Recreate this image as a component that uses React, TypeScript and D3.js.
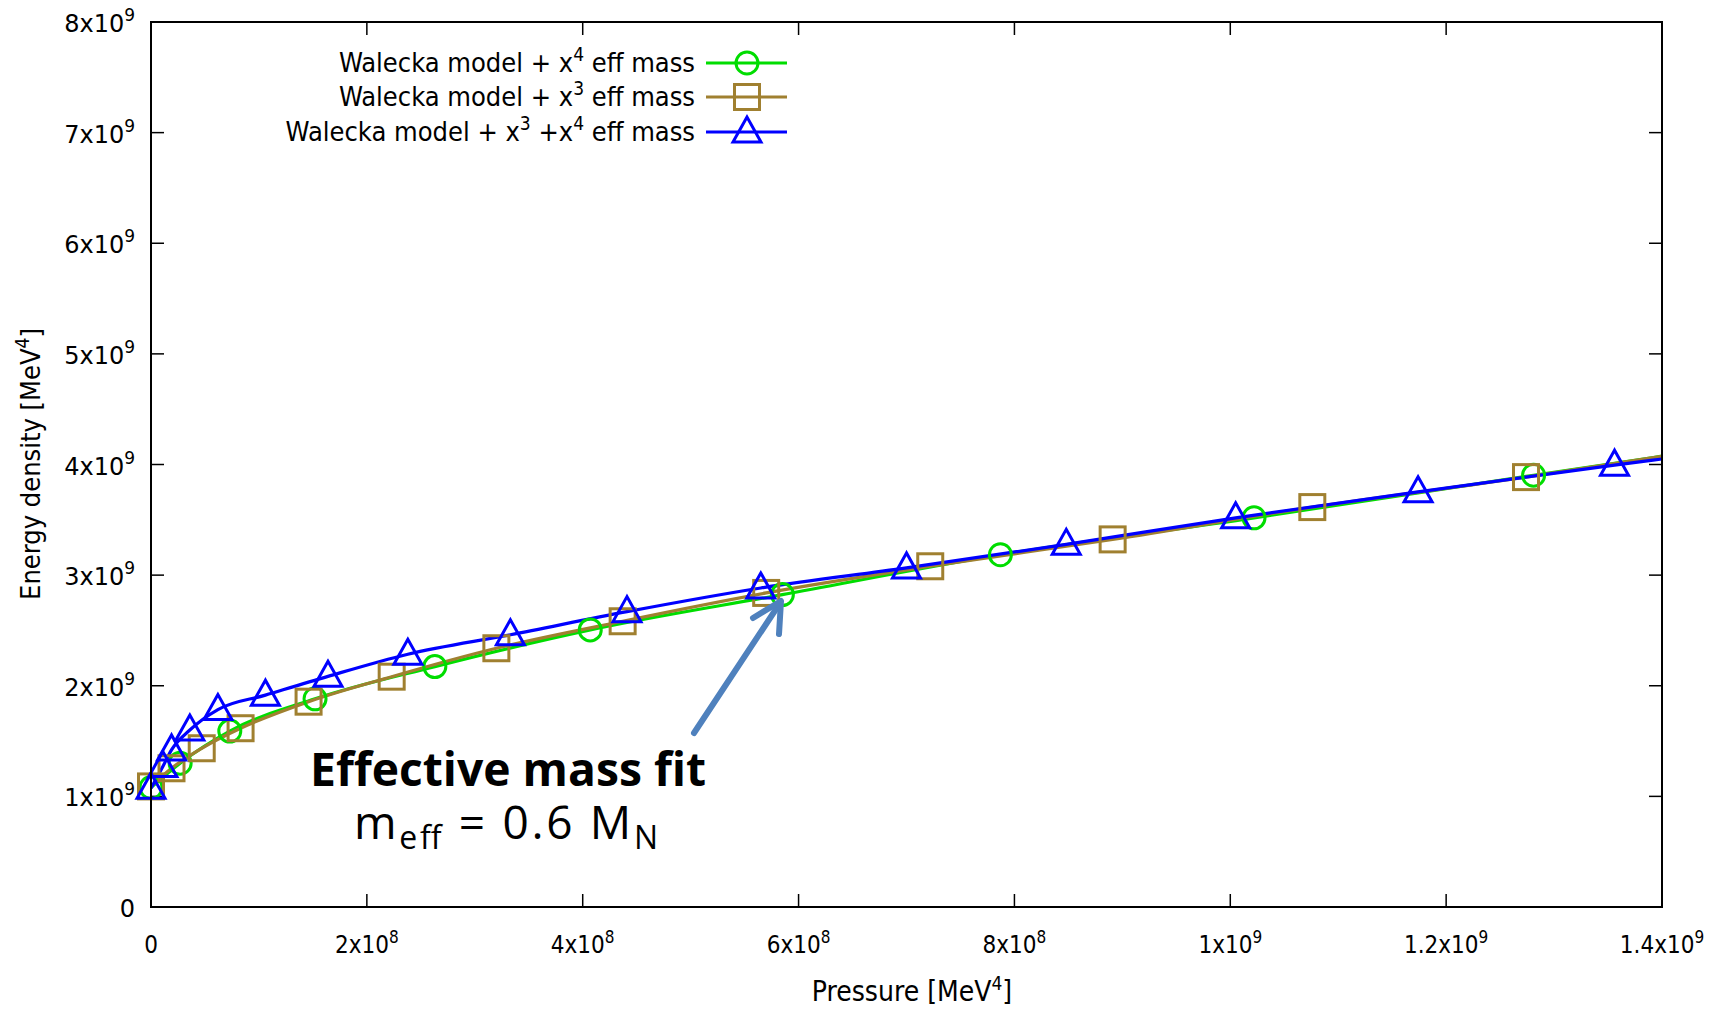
import React from "react";
import * as d3 from "d3";

// ---- data (P in MeV^4, energy density in MeV^4) ----
const xTickValues = [0, 2e8, 4e8, 6e8, 8e8, 1e9, 1.2e9, 1.4e9];
const xTickBase = ["0", "2x10", "4x10", "6x10", "8x10", "1x10", "1.2x10", "1.4x10"];
const xTickExp = ["", "8", "8", "8", "8", "9", "9", "9"];
const yTickValues = [0, 1e9, 2e9, 3e9, 4e9, 5e9, 6e9, 7e9, 8e9];
const yTickBase = ["0", "1x10", "2x10", "3x10", "4x10", "5x10", "6x10", "7x10", "8x10"];
const yTickExp = ["", "9", "9", "9", "9", "9", "9", "9", "9"];

// Walecka + x^4 (green circles)
const x4P = [0, 27e6, 73e6, 152e6, 263e6, 407e6, 585e6, 787e6, 1022e6, 1281e6];
const x4E = [1.08e9, 1.3e9, 1.59e9, 1.882e9, 2.173e9, 2.505e9, 2.824e9, 3.184e9, 3.518e9, 3.903e9];
const x4TailP = 1.4e9;
const x4TailE = 4.075e9;

// Walecka + x^3 (brown squares)
const x3P = [0, 19e6, 47e6, 83e6, 146e6, 223e6, 320e6, 437e6, 570e6, 722e6, 891e6, 1076e6, 1274e6];
const x3E = [1.09e9, 1.254e9, 1.435e9, 1.616e9, 1.856e9, 2.082e9, 2.339e9, 2.583e9, 2.839e9, 3.08e9, 3.323e9, 3.615e9, 3.886e9];
const x3TailP = 1.4e9;
const x3TailE = 4.075e9;

// Walecka + x^3 + x^4 (blue triangles)
const x34P = [0, 11e6, 19e6, 36e6, 62e6, 106e6, 164e6, 238e6, 333e6, 441e6, 565e6, 700e6, 848e6, 1005e6, 1174e6, 1356e6];
const x34E = [1.073e9, 1.27e9, 1.42e9, 1.6e9, 1.785e9, 1.915e9, 2.085e9, 2.285e9, 2.461e9, 2.67e9, 2.884e9, 3.065e9, 3.278e9, 3.518e9, 3.753e9, 3.994e9];
const x34TailP = 1.4e9;
const x34TailE = 4.05e9;

const legendLabels = [
  ["Walecka model + x", "4", " eff mass"],
  ["Walecka model + x", "3", " eff mass"],
  ["Walecka model + x", "3", " +x", "4", " eff mass"],
];

const GREEN = "#00dd00";
const BROWN = "#a08030";
const BLUE = "#0000ff";
const FONT = "'Liberation Sans Narrow', 'DejaVu Sans Condensed', 'Liberation Sans', Arial, sans-serif";
const WIDEFONT = "'DejaVu Sans', Verdana, sans-serif";
const ANNFONT = "'Open Sans', 'DejaVu Sans', sans-serif";

const W = 1727;
const H = 1011;
const L = 151, R = 1662, T = 22, B = 907;

function Marker({ kind, cx, cy, color }: { kind: string; cx: number; cy: number; color: string }) {
  if (kind === "circle") return <circle cx={cx} cy={cy} r={11} fill="none" stroke={color} strokeWidth={3} />;
  if (kind === "square") return <rect x={cx - 12.5} y={cy - 12.5} width={25} height={25} fill="none" stroke={color} strokeWidth={3} />;
  return <path d={`M${cx},${cy - 15}L${cx - 14},${cy + 10}L${cx + 14},${cy + 10}Z`} fill="none" stroke={color} strokeWidth={3} strokeLinejoin="miter" />;
}

export default function App() {
  const x = d3.scaleLinear().domain([0, 1.4e9]).range([L, R]);
  const y = d3.scaleLinear().domain([0, 8e9]).range([B, T]);
  const line = d3
    .line<[number, number]>()
    .x((d) => x(d[0]))
    .y((d) => y(d[1]))
    .curve(d3.curveMonotoneX);

  const series = [
    { P: x4P, E: x4E, tp: x4TailP, te: x4TailE, color: GREEN, kind: "circle" },
    { P: x3P, E: x3E, tp: x3TailP, te: x3TailE, color: BROWN, kind: "square" },
    { P: x34P, E: x34E, tp: x34TailP, te: x34TailE, color: BLUE, kind: "triangle" },
  ];

  const tickLen = 13;
  const legendY = [63, 97, 132];

  return (
    <svg width={W} height={H} style={{ position: "absolute", left: 0, top: 0, background: "#fff" }} fontFamily={FONT}>
      <defs>
        <clipPath id="plotclip">
          <rect x={L} y={T} width={R - L} height={B - T} />
        </clipPath>
      </defs>
      <rect x={0} y={0} width={W} height={H} fill="#fff" />

      {/* ticks */}
      {xTickValues.map((v, i) => (
        <g key={"xt" + i}>
          <line x1={x(v)} x2={x(v)} y1={B} y2={B - tickLen} stroke="#000" strokeWidth={1.5} />
          <line x1={x(v)} x2={x(v)} y1={T} y2={T + tickLen} stroke="#000" strokeWidth={1.5} />
          <text x={x(v)} y={953} textAnchor="middle" fontSize={24} fill="#000">
            {xTickBase[i]}
            {xTickExp[i] && (
              <tspan dy={-10} fontSize={17}>
                {xTickExp[i]}
              </tspan>
            )}
          </text>
        </g>
      ))}
      {yTickValues.map((v, i) => (
        <g key={"yt" + i}>
          <line x1={L} x2={L + tickLen} y1={y(v)} y2={y(v)} stroke="#000" strokeWidth={1.5} />
          <line x1={R} x2={R - tickLen} y1={y(v)} y2={y(v)} stroke="#000" strokeWidth={1.5} />
          <text x={135} y={y(v) + 10} textAnchor="end" fontSize={24} fill="#000" fontFamily={WIDEFONT}>
            {yTickBase[i]}
            {yTickExp[i] && (
              <tspan dy={-11} fontSize={17}>
                {yTickExp[i]}
              </tspan>
            )}
          </text>
        </g>
      ))}

      {/* axis titles */}
      <text x={912} y={1001} textAnchor="middle" fontSize={28} fill="#000">
        Pressure [MeV<tspan dy={-11} fontSize={19}>4</tspan>
        <tspan dy={11}>]</tspan>
      </text>
      <text transform={`translate(40,464) rotate(-90)`} textAnchor="middle" fontSize={27} fill="#000">
        Energy density [MeV<tspan dy={-11} fontSize={19}>4</tspan>
        <tspan dy={11}>]</tspan>
      </text>

      {/* curves */}
      <g clipPath="url(#plotclip)">
        {series.map((s, si) => {
          const pts: [number, number][] = s.P.map((p, i) => [p, s.E[i]] as [number, number]);
          pts.push([s.tp, s.te]);
          return <path key={"ln" + si} d={line(pts) || ""} fill="none" stroke={s.color} strokeWidth={3.2} />;
        })}
      </g>
      {series.map((s, si) => (
        <g key={"mk" + si}>
          {s.P.map((p, i) => (
            <Marker key={i} kind={s.kind} cx={x(p)} cy={y(s.E[i])} color={s.color} />
          ))}
        </g>
      ))}

      {/* frame */}
      <rect x={L} y={T} width={R - L} height={B - T} fill="none" stroke="#000" strokeWidth={2} />

      {/* legend */}
      {series.map((s, si) => {
        const parts = legendLabels[si];
        return (
          <g key={"lg" + si}>
            <text x={695} y={legendY[si] + 9} textAnchor="end" fontSize={27} fill="#000">
              {parts.map((p, k) =>
                k % 2 === 1 ? (
                  <tspan key={k} dy={-11} fontSize={19}>
                    {p}
                  </tspan>
                ) : (
                  <tspan key={k} dy={k === 0 ? 0 : 11}>
                    {p}
                  </tspan>
                )
              )}
            </text>
            <line x1={706} x2={787} y1={legendY[si]} y2={legendY[si]} stroke={s.color} strokeWidth={3.2} />
            <Marker kind={s.kind} cx={747} cy={legendY[si]} color={s.color} />
          </g>
        );
      })}

      {/* annotation */}
      <text x={508} y={786} textAnchor="middle" fontSize={46} fontWeight="bold" fill="#000" fontFamily={ANNFONT} textLength={396} lengthAdjust="spacingAndGlyphs">
        Effective mass fit
      </text>
      <text x={506} y={839} textAnchor="middle" fontSize={46} fill="#000" fontFamily={ANNFONT} textLength={304} lengthAdjust="spacing">
        m<tspan dy={10} fontSize={32}>eff</tspan>
        <tspan dy={-10}> = 0.6 M</tspan>
        <tspan dy={10} fontSize={32}>N</tspan>
      </text>
      <g stroke="#4f81bd" strokeWidth={6} strokeLinecap="round" fill="none">
        <line x1={694} y1={733} x2={780} y2={603} />
        <polyline points="753,618 781,601 779,634" strokeLinejoin="round" />
      </g>
    </svg>
  );
}
